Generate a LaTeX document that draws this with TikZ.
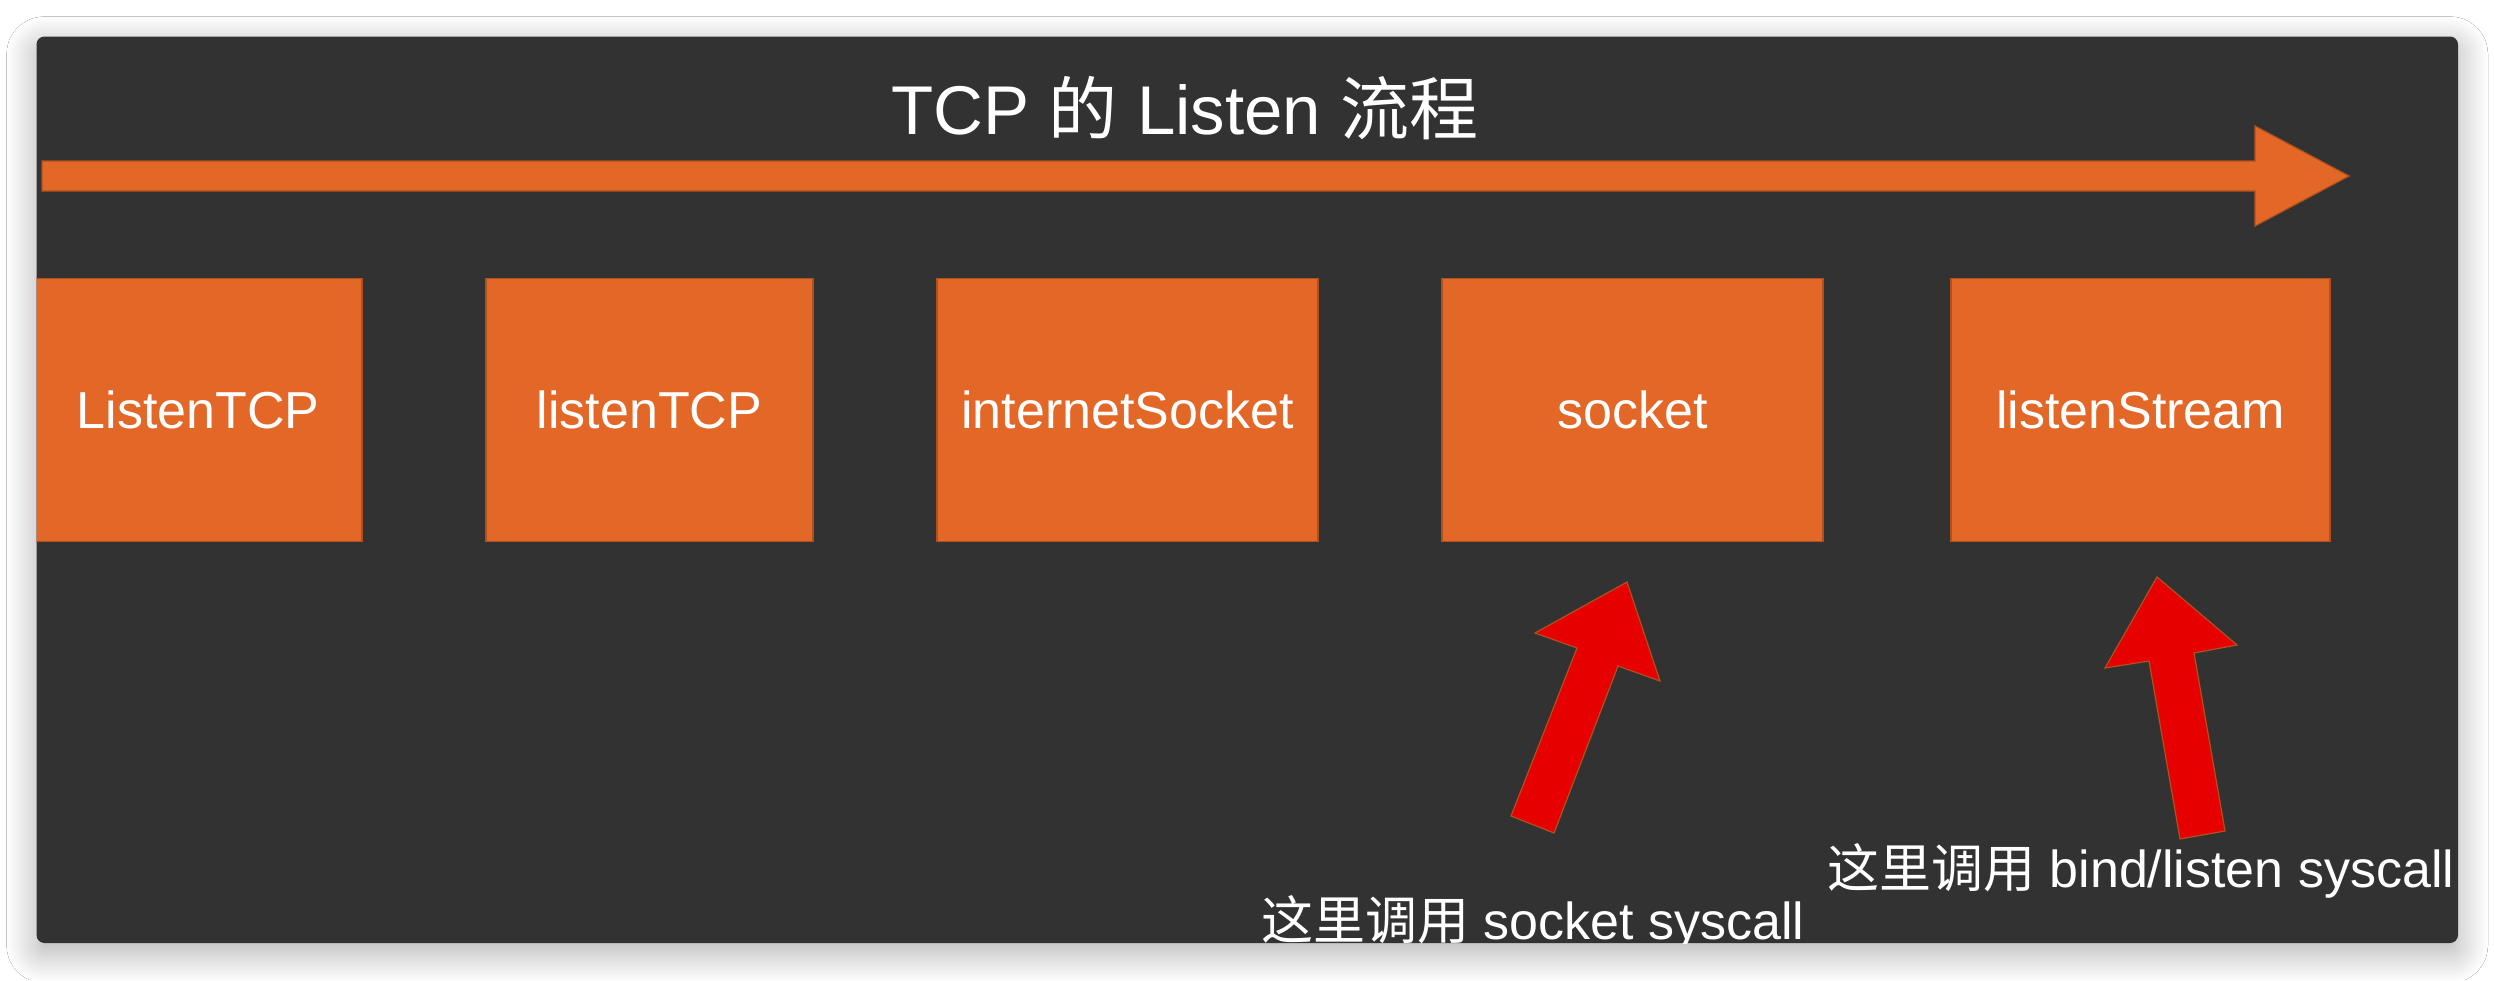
\documentclass[tikz,border=0pt]{standalone}
\usepackage{fontspec}
\setmainfont{Liberation Sans}
\newfontfamily\cjk{Noto Sans CJK SC}
\usetikzlibrary{positioning}
\usetikzlibrary{shadows.blur}

\definecolor{panelbg}{HTML}{323232}
\definecolor{boxfill}{HTML}{E36828}
\definecolor{boxedge}{HTML}{B0501C}
\definecolor{callred}{HTML}{E60000}

\tikzset{
  funcbox/.style={draw=boxedge, line width=1.5pt, fill=boxfill, text=white,
    minimum height=263pt, inner sep=0pt, outer sep=0pt,
    font=\fontsize{52}{62}\selectfont},
  callnote/.style={text=white, inner sep=0pt, anchor=base west,
    font=\fontsize{52}{62}\selectfont},
  blockarrow/.style={fill=#1, draw=boxedge, line width=1.2pt, line join=miter},
}

\begin{document}
\begin{tikzpicture}[x=1pt,y=-1pt]

\useasboundingbox (0,0) rectangle (2494,980);
\fill[white] (0,0) rectangle (2494,980);

% window
\path[fill=panelbg, rounded corners=8pt,
  blur shadow={shadow xshift=0pt, shadow yshift=-10pt, shadow blur radius=30pt,
    shadow blur steps=24, shadow opacity=32}]
  (36.5,36.5) rectangle (2458,943);

\begin{scope}
\clip[rounded corners=8pt] (36.5,36.5) rectangle (2458,943);

\node[text=white, anchor=base, inner sep=0pt, font=\fontsize{69}{80}\selectfont]
  (title) at (1185,134) {TCP {\cjk 的} Listen {\cjk 流程}};

% flow arrow
\coordinate (flowstart) at (42,176);
\coordinate (flowtip) at (2349,176);
\draw[blockarrow=boxfill] (42,161) -- (2255,161) -- (2255,126) -- (flowtip)
  -- (2255,226) -- (2255,191) -- (42,191) -- cycle;

\node[funcbox, minimum width=328pt] (ListenTCP) at (198,410) {ListenTCP};
\node[funcbox, minimum width=327pt, right=124pt of ListenTCP] (listenTCP) {listenTCP};
\node[funcbox, minimum width=381pt, right=124pt of listenTCP] (internetSocket) {internetSocket};
\node[funcbox, minimum width=381pt, right=124pt of internetSocket] (socket) {socket};
\node[funcbox, minimum width=379pt, right=128pt of socket] (listenStream) {listenStream};

% callouts
\draw[blockarrow=callred] (1627,582) -- (1660,681) -- (1618,666) -- (1554,833)
  -- (1511,816) -- (1577,648) -- (1535,633) -- cycle;
\draw[blockarrow=callred] (2157,577) -- (2237,645) -- (2194,653) -- (2225,831)
  -- (2180,839) -- (2149,661) -- (2105,668) -- cycle;

\node[callnote] (socketnote) at (1261,939) {{\cjk 这里调用} socket syscall};
\node[callnote] (bindnote) at (1827,887) {{\cjk 这里调用} bind/listen syscall};

\end{scope}

\end{tikzpicture}
\end{document}
